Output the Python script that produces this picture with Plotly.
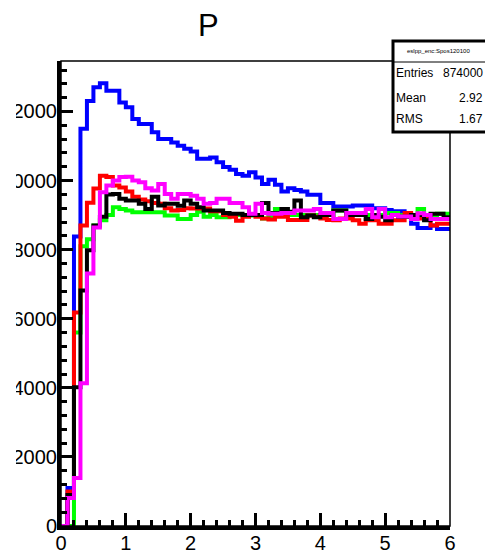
import numpy as np
import plotly.graph_objects as go

# Histogram binning: 60 bins of width 0.1 on [0, 6]
bin_width = 0.1
n_bins = 60
edges = np.round(np.arange(n_bins + 1) * bin_width, 2)

blue = [0, 1100, 8380, 11500, 12300, 12700, 12820, 12600, 12600, 12260,
        12120, 11780, 11640, 11640, 11400, 11200, 11200, 11100, 11010, 10920,
        10840, 10630, 10630, 10670, 10530, 10390, 10310, 10190, 10140, 10240,
        10090, 9900, 10020, 9880, 9680, 9780, 9730, 9680, 9590, 9590,
        9350, 9350, 9250, 9250, 9250, 9280, 9280, 9280, 9200, 9200,
        9150, 9110, 9110, 9040, 8750, 8630, 8630, 8700, 8600, 8600]

green = [0, 0, 5600, 8100, 8300, 8700, 8850, 9000, 9230, 9180,
         9130, 9080, 9080, 9080, 9080, 9080, 8990, 8990, 8890, 8890,
         9000, 9100, 8950, 9000, 8940, 8940, 9000, 9000, 8990, 8990,
         8990, 8900, 8950, 9180, 9050, 9000, 9000, 9000, 9000, 9000,
         9000, 9000, 9130, 9130, 9050, 9000, 9000, 9000, 8950, 9000,
         9060, 9060, 9000, 8950, 8950, 9180, 9000, 9000, 9040, 9040]

red = [0, 1000, 6180, 8700, 9360, 9770, 10140, 10100, 9860, 9800,
       9680, 9530, 9450, 9400, 9350, 9330, 9200, 9130, 9150, 9200,
       9190, 9190, 9190, 9110, 9110, 9000, 8950, 8840, 8950, 9000,
       8950, 8900, 8870, 8950, 8950, 8860, 8860, 8860, 8990, 8950,
       8900, 8860, 8850, 8900, 8900, 8850, 8750, 8850, 8850, 8750,
       8750, 8850, 8850, 9060, 8950, 8900, 8900, 8700, 8750, 8750]

black = [0, 900, 4020, 6820, 7980, 8700, 8950, 9600, 9610, 9470,
         9420, 9420, 9330, 9180, 9530, 9280, 9330, 9330, 9270, 9420,
         9330, 9230, 9130, 9130, 9130, 9060, 9040, 9040, 9000, 9000,
         9000, 9350, 9060, 9060, 9180, 9100, 9420, 8940, 8990, 8940,
         9000, 9000, 9130, 9130, 9000, 9000, 9000, 8890, 9000, 8950,
         8850, 9000, 8950, 8950, 9000, 9000, 8850, 9040, 9040, 8940]

magenta = [0, 810, 1390, 4130, 7310, 8640, 9660, 9860, 10000, 10100,
           10110, 10000, 9950, 9780, 9710, 9900, 9610, 9470, 9610, 9610,
           9560, 9470, 9330, 9350, 9470, 9470, 9350, 9350, 9230, 9040,
           9330, 9060, 9040, 9040, 9060, 9060, 9130, 9130, 9130, 9180,
           9060, 9060, 8890, 8890, 9060, 9060, 9060, 9180, 8940, 9180,
           8940, 9000, 8960, 8960, 8890, 9050, 9000, 8890, 8890, 8890]

series = [
    (blue, "#0000ff"),
    (green, "#00ff00"),
    (red, "#ff0000"),
    (black, "#000000"),
    (magenta, "#ff00ff"),
]

x_ticks = [0, 1, 2, 3, 4, 5, 6]
y_ticks = [0, 2000, 4000, 6000, 8000, 10000, 12000]

stats_title = "eslpp_enc:Spos120100"
stats_rows = [("Entries", "874000"), ("Mean", "2.92"), ("RMS", "1.67")]

W, H = 485, 554
ML, MR, MT, MB = 61, 35, 61, 28
PW, PH = W - ML - MR, H - MT - MB


def px(xp):
    return (xp - ML) / PW


def py(yp):
    return (H - MB - yp) / PH


fig = go.Figure()
for vals, color in series:
    fig.add_trace(go.Scatter(
        x=edges, y=list(vals) + [vals[-1]], mode="lines",
        line=dict(color=color, width=4, shape="hv"),
        showlegend=False, hoverinfo="skip"))

ymax = 1.05 * max(max(s) for s, _ in series)

fig.update_layout(
    width=W, height=H,
    margin=dict(l=ML, r=MR, t=MT, b=MB, autoexpand=False),
    paper_bgcolor="white", plot_bgcolor="white",
    showlegend=False,
    font=dict(family="Liberation Sans, Arial, sans-serif", color="black"),
)
fig.update_xaxes(
    range=[0, 6], showgrid=False, zeroline=False,
    showline=True, linewidth=4, linecolor="black",
    tickmode="array", tickvals=x_ticks, ticktext=[str(v) for v in x_ticks],
    ticks="inside", ticklen=13, tickwidth=3, tickcolor="black",
    tickfont=dict(size=20), ticklabelstandoff=-4,
    minor=dict(dtick=0.2, tick0=0, ticks="inside", ticklen=6, tickwidth=3, tickcolor="black"),
)
fig.update_yaxes(
    range=[0, ymax], showgrid=False, zeroline=False,
    showline=True, linewidth=4, linecolor="black",
    tickmode="array", tickvals=y_ticks, ticktext=[str(v) for v in y_ticks],
    ticks="inside", ticklen=12, tickwidth=3, tickcolor="black",
    tickfont=dict(size=20), ticklabelstandoff=-4,
    minor=dict(dtick=400, tick0=0, ticks="inside", ticklen=6, tickwidth=3, tickcolor="black"),
)

# thin frame on top and right
fig.add_shape(type="rect", xref="paper", yref="paper", x0=0, x1=1, y0=0, y1=1,
              line=dict(color="black", width=1.5), layer="above")

# pad edge on the left hides the overflowing label digits
fig.add_shape(type="rect", xref="paper", yref="paper", x0=px(-5), x1=px(16),
              y0=py(H + 5), y1=py(-5), fillcolor="white", line=dict(width=0), layer="above")

# statistics box
fig.add_shape(type="rect", xref="paper", yref="paper", x0=px(393), x1=px(492),
              y0=py(132), y1=py(41), fillcolor="white",
              line=dict(color="black", width=3), layer="above")
fig.add_shape(type="line", xref="paper", yref="paper", x0=px(393), x1=px(492),
              y0=py(62), y1=py(62), line=dict(color="black", width=1), layer="above")
fig.add_annotation(x=px(438), y=py(51), xref="paper", yref="paper", text=stats_title,
                   showarrow=False, font=dict(size=6), xanchor="center", yanchor="middle")
for i, (lab, val) in enumerate(stats_rows):
    yc = [73, 98, 119][i]
    fig.add_annotation(x=px(394), y=py(yc), xref="paper", yref="paper", text=lab,
                       showarrow=False, font=dict(size=12), xanchor="left", yanchor="middle")
    fig.add_annotation(x=px(485), y=py(yc), xref="paper", yref="paper", text=val,
                       showarrow=False, font=dict(size=12), xanchor="right", yanchor="middle")

# histogram title
fig.add_annotation(x=px(208), y=py(25), xref="paper", yref="paper", text="P",
                   showarrow=False, font=dict(size=31), xanchor="center", yanchor="middle")

fig.write_html("out.html")
